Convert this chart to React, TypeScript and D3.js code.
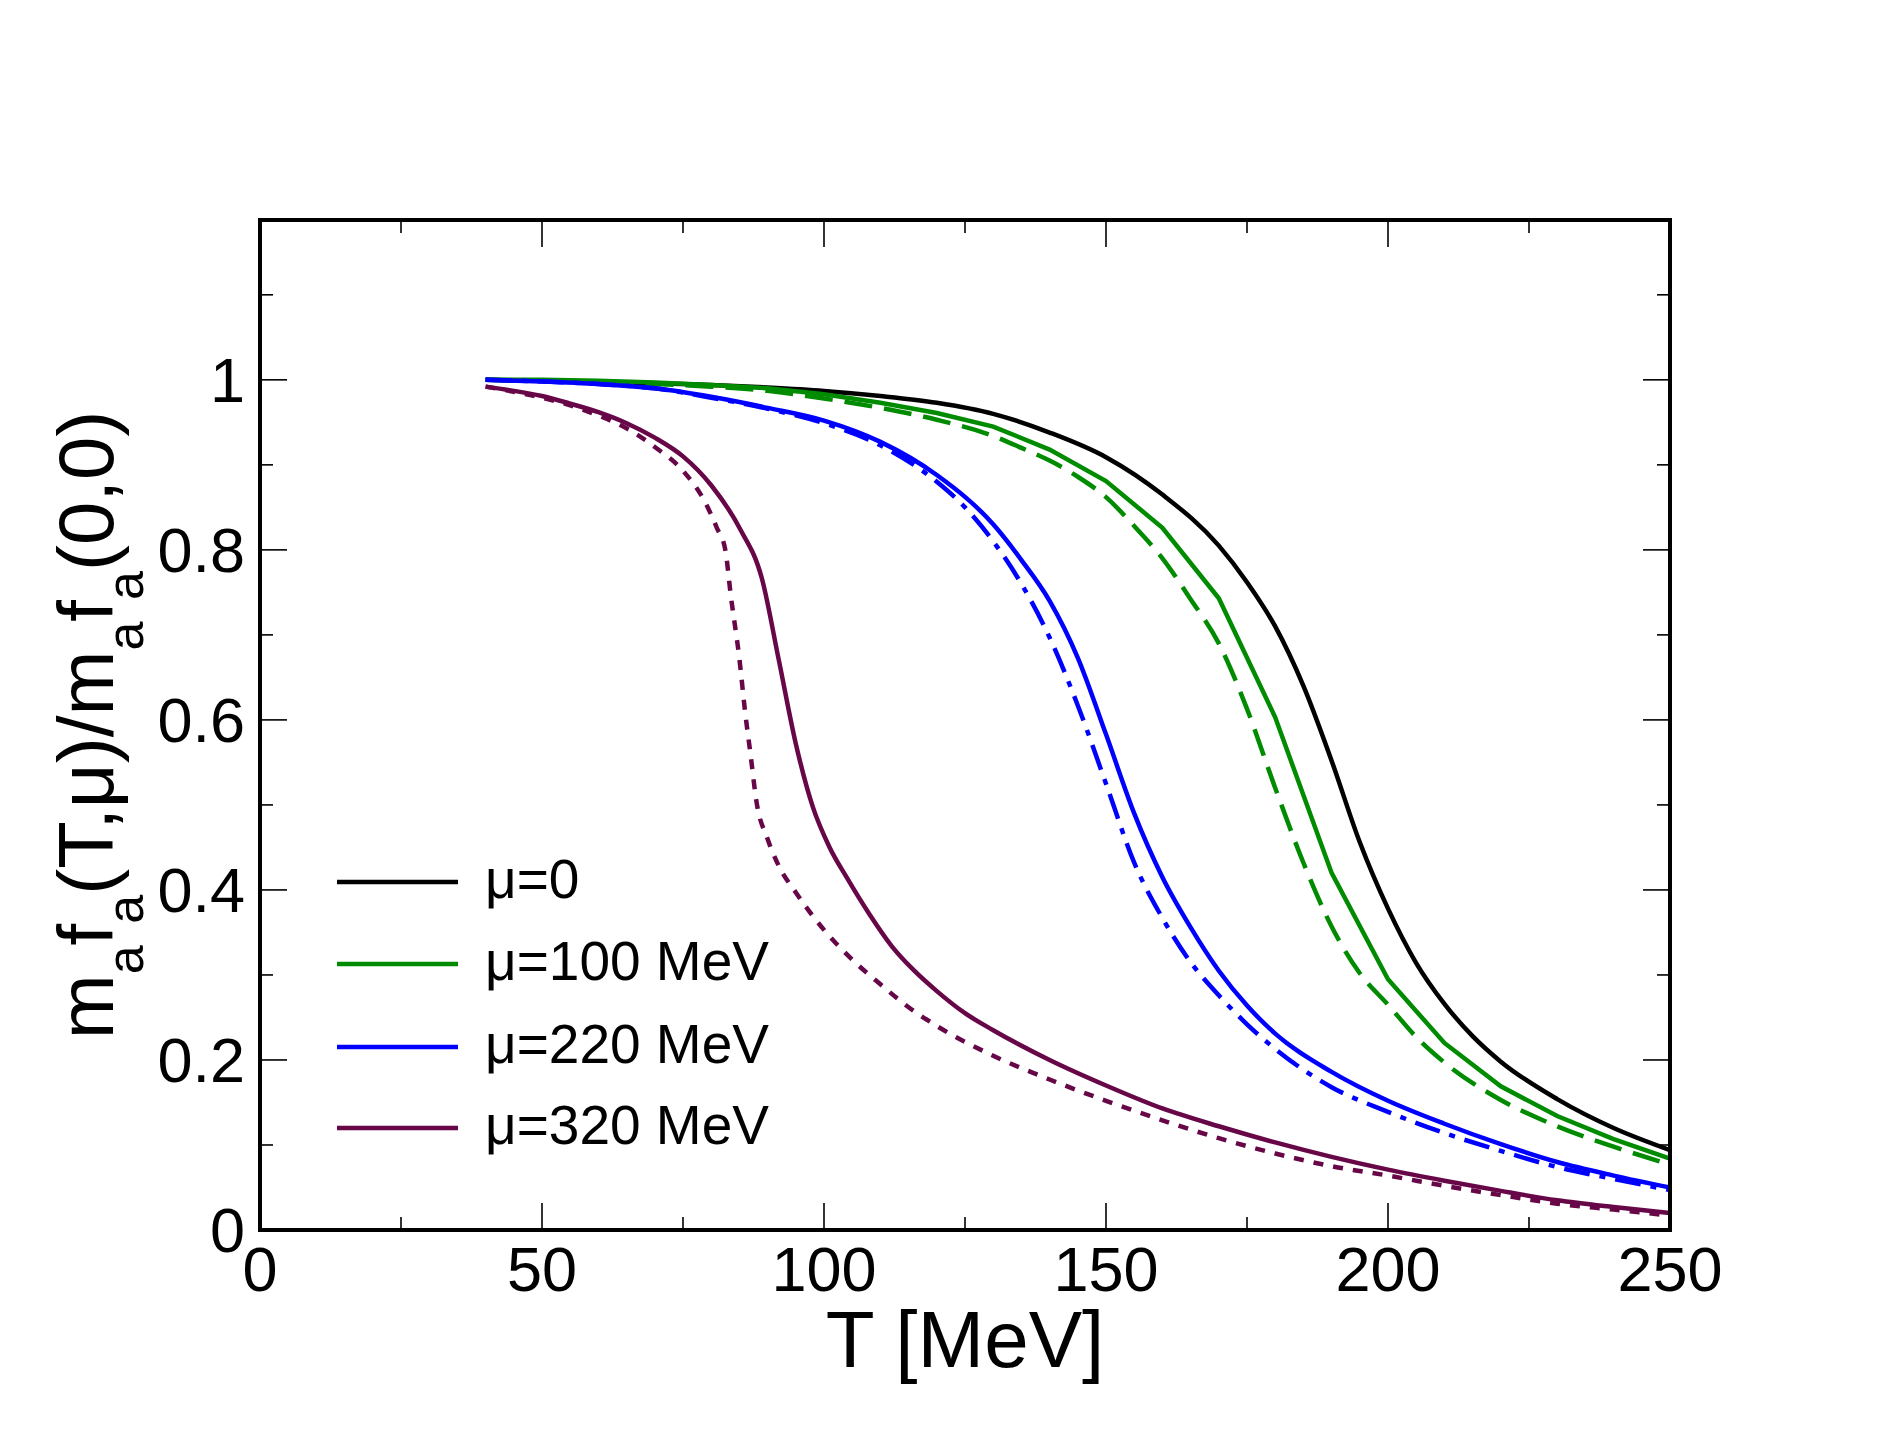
import React, { useEffect, useRef } from "react";
import * as d3 from "d3";

// temperatures [MeV] and ratios
const tMu0 = [40, 50, 60, 70, 80, 90, 100, 110, 120, 130, 140, 150, 160, 170, 175, 180, 185, 190, 195, 200, 205, 210, 215, 220, 230, 240, 250];
const rMu0 = [1.0, 0.999, 0.998, 0.996, 0.994, 0.991, 0.987, 0.981, 0.973, 0.96, 0.938, 0.909, 0.865, 0.805, 0.762, 0.71, 0.64, 0.552, 0.456, 0.378, 0.314, 0.266, 0.228, 0.198, 0.154, 0.12, 0.094];

const tMu100 = [40, 50, 60, 70, 80, 90, 100, 110, 120, 130, 140, 150, 160, 170, 180, 190, 200, 210, 220, 230, 240, 250];
const rMu100 = [1.0, 1.0, 0.999, 0.997, 0.994, 0.99, 0.983, 0.973, 0.961, 0.945, 0.918, 0.881, 0.826, 0.743, 0.603, 0.42, 0.295, 0.22, 0.169, 0.134, 0.107, 0.084];

const tMu100b = [40, 50, 60, 70, 80, 90, 100, 110, 120, 130, 135, 140, 145, 150, 155, 160, 165, 170, 175, 180, 185, 190, 195, 200, 205, 210, 220, 230, 240, 250];
const rMu100b = [1.0, 0.999, 0.997, 0.995, 0.992, 0.987, 0.978, 0.967, 0.953, 0.934, 0.92, 0.905, 0.886, 0.862, 0.828, 0.79, 0.742, 0.69, 0.613, 0.52, 0.432, 0.357, 0.302, 0.265, 0.227, 0.197, 0.153, 0.122, 0.098, 0.077];

const tMu220 = [40, 50, 60, 70, 80, 90, 100, 110, 120, 130, 135, 140, 145, 150, 155, 160, 165, 170, 175, 180, 190, 200, 210, 220, 230, 240, 250];
const rMu220 = [1.0, 0.998, 0.995, 0.99, 0.98, 0.967, 0.952, 0.927, 0.888, 0.83, 0.788, 0.74, 0.673, 0.583, 0.49, 0.415, 0.356, 0.305, 0.264, 0.231, 0.186, 0.152, 0.125, 0.101, 0.08, 0.064, 0.05];

const tMu220b = [40, 50, 60, 70, 80, 90, 100, 110, 120, 125, 130, 135, 140, 145, 150, 155, 160, 165, 170, 175, 180, 190, 200, 210, 220, 230, 240, 250];
const rMu220b = [1.0, 0.998, 0.995, 0.99, 0.979, 0.966, 0.949, 0.923, 0.88, 0.85, 0.81, 0.76, 0.697, 0.617, 0.525, 0.432, 0.367, 0.315, 0.276, 0.242, 0.213, 0.168, 0.139, 0.114, 0.093, 0.074, 0.06, 0.047];

const tMu320 = [40, 45, 50, 55, 60, 65, 70, 75, 80, 85, 89, 92, 95, 98, 101, 104, 108, 112, 116, 120, 125, 130, 140, 150, 160, 170, 180, 190, 200, 210, 220, 230, 240, 250];
const rMu320 = [0.992, 0.987, 0.981, 0.972, 0.962, 0.949, 0.932, 0.91, 0.876, 0.826, 0.766, 0.67, 0.572, 0.498, 0.45, 0.415, 0.372, 0.334, 0.305, 0.281, 0.255, 0.235, 0.2, 0.17, 0.143, 0.122, 0.103, 0.086, 0.071, 0.058, 0.046, 0.035, 0.027, 0.02];

const tMu320b = [40, 45, 50, 55, 60, 65, 70, 75, 79, 81, 82.5, 83.5, 85, 86, 87, 88, 90, 92, 95, 100, 105, 110, 115, 120, 130, 140, 150, 160, 170, 180, 190, 200, 210, 220, 230, 240, 250];
const rMu320b = [0.992, 0.986, 0.979, 0.97, 0.958, 0.943, 0.921, 0.893, 0.855, 0.826, 0.8, 0.745, 0.672, 0.61, 0.558, 0.505, 0.46, 0.428, 0.397, 0.353, 0.318, 0.289, 0.262, 0.24, 0.205, 0.177, 0.152, 0.129, 0.108, 0.09, 0.075, 0.064, 0.052, 0.041, 0.031, 0.024, 0.017];

const legendLabels = ["μ=0", "μ=100 MeV", "μ=220 MeV", "μ=320 MeV"];
const xTicks = [0, 50, 100, 150, 200, 250];
const xMinor = [25, 75, 125, 175, 225];
const yTicks = [0, 0.2, 0.4, 0.6, 0.8, 1];
const yMinor = [0.1, 0.3, 0.5, 0.7, 0.9, 1.1];

const BLACK = "#000000";
const GREEN = "#008b00";
const BLUE = "#0000ff";
const MAROON = "#670748";

const FONT = "'Liberation Sans', Arial, Helvetica, sans-serif";

export default function App() {
	const ref = useRef(null);

	useEffect(() => {
		const W = 1878;
		const H = 1451;
		const left = 260;
		const right = 1670;
		const top = 220;
		const bottom = 1230;

		const root = d3.select(ref.current);
		root.selectAll("*").remove();

		const svg = root
			.append("svg")
			.attr("width", W)
			.attr("height", H)
			.style("position", "absolute")
			.style("left", "0px")
			.style("top", "0px")
			.style("background", "#fff");

		const x = d3.scaleLinear().domain([0, 250]).range([left, right]);
		const y = d3.scaleLinear().domain([0, 1.188]).range([bottom, top]);

		const clipId = "plotclip";
		svg
			.append("clipPath")
			.attr("id", clipId)
			.append("rect")
			.attr("x", left)
			.attr("y", top)
			.attr("width", right - left)
			.attr("height", bottom - top);

		// curves
		const series = [
			{ t: tMu0, r: rMu0, color: BLACK, dash: null, curve: d3.curveMonotoneX },
			{ t: tMu100b, r: rMu100b, color: GREEN, dash: "28 12", curve: d3.curveMonotoneX },
			{ t: tMu100, r: rMu100, color: GREEN, dash: null, curve: d3.curveLinear },
			{ t: tMu220b, r: rMu220b, color: BLUE, dash: "26 10 6 10", curve: d3.curveMonotoneX },
			{ t: tMu220, r: rMu220, color: BLUE, dash: null, curve: d3.curveMonotoneX },
			{ t: tMu320b, r: rMu320b, color: MAROON, dash: "10 10", curve: d3.curveMonotoneX },
			{ t: tMu320, r: rMu320, color: MAROON, dash: null, curve: d3.curveMonotoneX },
		];

		const g = svg.append("g").attr("clip-path", `url(#${clipId})`);
		series.forEach((s) => {
			const pts = s.t.map((t, i) => [t, s.r[i]]);
			const line = d3
				.line()
				.x((d) => x(d[0]))
				.y((d) => y(d[1]))
				.curve(s.curve);
			g.append("path")
				.attr("d", line(pts))
				.attr("fill", "none")
				.attr("stroke", s.color)
				.attr("stroke-width", 4.5)
				.attr("stroke-dasharray", s.dash);
		});

		// ticks on all four sides, pointing inwards
		const ticks = svg.append("g").attr("stroke", "#000").attr("stroke-width", 1.6);
		const major = 27;
		const minor = 13;
		xTicks.concat(xMinor).forEach((v) => {
			const len = xTicks.includes(v) ? major : minor;
			ticks.append("line").attr("x1", x(v)).attr("x2", x(v)).attr("y1", bottom).attr("y2", bottom - len);
			ticks.append("line").attr("x1", x(v)).attr("x2", x(v)).attr("y1", top).attr("y2", top + len);
		});
		yTicks.concat(yMinor).forEach((v) => {
			const len = yTicks.includes(v) ? major : minor;
			ticks.append("line").attr("y1", y(v)).attr("y2", y(v)).attr("x1", left).attr("x2", left + len);
			ticks.append("line").attr("y1", y(v)).attr("y2", y(v)).attr("x1", right).attr("x2", right - len);
		});

		// frame
		svg
			.append("rect")
			.attr("x", left)
			.attr("y", top)
			.attr("width", right - left)
			.attr("height", bottom - top)
			.attr("fill", "none")
			.attr("stroke", "#000")
			.attr("stroke-width", 4);

		// tick labels
		svg
			.append("g")
			.selectAll("text")
			.data(xTicks)
			.enter()
			.append("text")
			.attr("x", (d) => x(d))
			.attr("y", 1291)
			.attr("text-anchor", "middle")
			.attr("font-family", FONT)
			.attr("font-size", 63)
			.text((d) => d3.format("d")(d));

		svg
			.append("g")
			.selectAll("text")
			.data(yTicks)
			.enter()
			.append("text")
			.attr("x", 245)
			.attr("y", (d) => y(d) + 22)
			.attr("text-anchor", "end")
			.attr("font-family", FONT)
			.attr("font-size", 63)
			.text((d) => (d === 0 || d === 1 ? String(d) : d3.format(".1f")(d)));

		// axis titles
		svg
			.append("text")
			.attr("x", (left + right) / 2)
			.attr("y", 1367)
			.attr("text-anchor", "middle")
			.attr("font-family", FONT)
			.attr("font-size", 80)
			.text("T [MeV]");

		const yl = svg
			.append("text")
			.attr("transform", `translate(113, ${(top + bottom) / 2}) rotate(-90)`)
			.attr("text-anchor", "middle")
			.attr("font-family", FONT)
			.attr("font-size", 78);
		const parts = [
			["m", false], ["a", true], ["f", false], ["a", true], ["(T,μ)/m", false],
			["a", true], ["f", false], ["a", true], ["(0,0)", false],
		];
		let sub = false;
		parts.forEach(([txt, isSub]) => {
			const ts = yl.append("tspan").text(txt as string);
			if (isSub && !sub) ts.attr("dy", 30).attr("font-size", 52);
			else if (isSub) ts.attr("font-size", 52);
			if (!isSub && sub) ts.attr("dy", -30);
			sub = isSub as boolean;
		});

		// legend
		const legendColors = [BLACK, GREEN, BLUE, MAROON];
		const legendY = [882, 964, 1047, 1128];
		const lg = svg.append("g");
		legendLabels.forEach((label, i) => {
			lg.append("line")
				.attr("x1", 337)
				.attr("x2", 458)
				.attr("y1", legendY[i])
				.attr("y2", legendY[i])
				.attr("stroke", legendColors[i])
				.attr("stroke-width", 4.5);
			lg.append("text")
				.attr("x", 485)
				.attr("y", legendY[i] + 16)
				.attr("font-family", FONT)
				.attr("font-size", 55)
				.text(label);
		});
	}, []);

	return <div ref={ref} />;
}
